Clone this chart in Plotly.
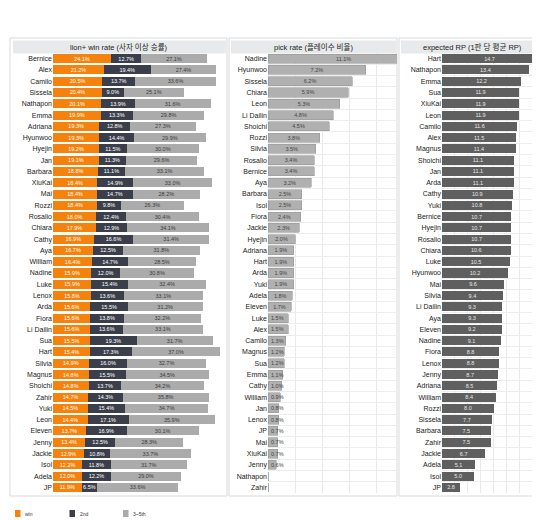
import plotly.graph_objects as go

W, H = 540, 520

# ---------------- data ----------------
wr_names = ["Bernice", "Alex", "Camilo", "Sissela", "Nathapon", "Emma", "Adriana", "Hyunwoo",
            "Hyejin", "Jan", "Barbara", "XiuKai", "Mai", "Rozzi", "Rosalio", "Chiara", "Cathy",
            "Aya", "William", "Nadine", "Luke", "Lenox", "Arda", "Fiora", "Li Dailin", "Sua",
            "Hart", "Silvia", "Magnus", "Shoichi", "Zahir", "Yuki", "Leon", "Eleven", "Jenny",
            "Jackie", "Isol", "Adela", "JP"]
wr_win = [24.1, 21.2, 20.5, 20.4, 20.1, 19.9, 19.3, 19.3, 19.2, 19.1, 18.8, 18.4, 18.4, 18.4,
          18.0, 17.9, 16.9, 16.7, 16.4, 15.9, 15.9, 15.8, 15.6, 15.6, 15.6, 15.5, 15.4, 14.9,
          14.8, 14.8, 14.7, 14.5, 14.4, 13.7, 13.4, 12.9, 12.2, 12.0, 11.9]
wr_2nd = [12.7, 19.4, 13.7, 9.0, 13.9, 13.3, 12.8, 14.4, 11.5, 11.3, 11.1, 14.9, 14.7, 9.8,
          12.4, 12.9, 16.6, 12.5, 14.7, 12.0, 15.4, 13.6, 15.5, 13.8, 13.6, 19.3, 17.3, 16.0,
          15.5, 13.7, 14.3, 15.4, 17.1, 16.9, 12.5, 10.8, 11.8, 12.2, 6.5]
wr_3to5 = [27.1, 27.4, 33.6, 25.1, 31.6, 29.8, 27.3, 29.9, 30.0, 29.6, 33.1, 33.0, 28.2, 26.3,
           30.4, 34.1, 31.4, 31.8, 28.5, 30.8, 32.4, 33.1, 31.2, 32.2, 33.1, 31.7, 37.0, 32.7,
           34.5, 34.2, 35.8, 34.7, 35.9, 30.1, 28.3, 33.7, 31.7, 29.0, 33.6]

pr_names = ["Nadine", "Hyunwoo", "Sissela", "Chiara", "Leon", "Li Dailin", "Shoichi", "Rozzi",
            "Silvia", "Rosalio", "Bernice", "Aya", "Barbara", "Isol", "Fiora", "Jackie", "Hyejin",
            "Adriana", "Hart", "Arda", "Yuki", "Adela", "Eleven", "Luke", "Alex", "Camilo",
            "Magnus", "Sua", "Emma", "Cathy", "William", "Jan", "Lenox", "JP", "Mai", "XiuKai",
            "Jenny", "Nathapon", "Zahir"]
pr_vals = [11.1, 7.2, 6.2, 5.9, 5.3, 4.8, 4.5, 3.8, 3.5, 3.4, 3.4, 3.2, 2.5, 2.5, 2.4, 2.3, 2.0,
           1.9, 1.9, 1.9, 1.9, 1.8, 1.7, 1.5, 1.5, 1.3, 1.2, 1.2, 1.1, 1.0, 0.9, 0.8, 0.8, 0.7,
           0.7, 0.7, 0.6, 0.0, 0.0]

rp_names = ["Hart", "Nathapon", "Emma", "Sua", "XiuKai", "Leon", "Camilo", "Alex", "Magnus",
            "Shoichi", "Jan", "Arda", "Cathy", "Yuki", "Bernice", "Hyejin", "Rosalio", "Chiara",
            "Luke", "Hyunwoo", "Mai", "Silvia", "Li Dailin", "Aya", "Eleven", "Nadine", "Fiora",
            "Lenox", "Jenny", "Adriana", "William", "Rozzi", "Sissela", "Barbara", "Zahir",
            "Jackie", "Adela", "Isol", "JP"]
rp_vals = [14.7, 13.4, 12.2, 11.9, 11.9, 11.9, 11.6, 11.5, 11.4, 11.1, 11.1, 11.1, 10.9, 10.8,
           10.7, 10.7, 10.7, 10.6, 10.5, 10.2, 9.6, 9.4, 9.3, 9.3, 9.2, 9.1, 8.8, 8.8, 8.7, 8.5,
           8.4, 8.0, 7.7, 7.5, 7.5, 6.7, 5.1, 5.0, 2.8]

titles = ["lion+ win rate (사자 이상 승률)", "pick rate (플레이수 비율)", "expected RP (1판 당 평균 RP)"]
legend_names = ["win", "2nd", "3~5th"]

# ---------------- style ----------------
ORANGE = "#F5820C"
NAVY = "#3B3F4B"
GRAY = "#ABABAB"
DGRAY = "#5F5F5F"
FONT = "Liberation Sans, Noto Sans CJK KR, sans-serif"
LBL = 5.5
SMALL = 1.6   # pick-rate bars narrower than this get their label at the bar base
PR_MAX = 9.5  # visible end of the pick-rate axis (longer bars are cut off)


def px(x):
    return x / W


def py(y):
    return 1 - y / H


def pct(vals):
    return [f"{v:.1f}%" if v > 0 else "" for v in vals]


fig = go.Figure()

seg_colors = [ORANGE, NAVY, GRAY]
seg_text = ["white", "white", "#3a3a3a"]
for name, vals, col, tc in zip(legend_names, [wr_win, wr_2nd, wr_3to5], seg_colors, seg_text):
    fig.add_trace(go.Bar(
        y=wr_names, x=vals, orientation="h", name=name, marker_color=col,
        marker_line_width=0, width=0.8, textangle=0,
        text=pct(vals), textposition="inside", insidetextanchor="middle",
        constraintext="none", textfont=dict(size=LBL, color=tc, family=FONT),
        xaxis="x", yaxis="y", showlegend=False))

# pick rate: split into wide bars (centred label) and narrow bars (label from base)
big_n = [n for n, v in zip(pr_names, pr_vals) if v >= SMALL]
big_v = [v for v in pr_vals if v >= SMALL]
big_t = [t if v <= PR_MAX else "" for t, v in zip(pct(big_v), big_v)]
sml_n = [n for n, v in zip(pr_names, pr_vals) if v < SMALL]
sml_v = [v for v in pr_vals if v < SMALL]
for names, vals, texts, anchor, clip in [(big_n, big_v, big_t, "middle", True),
                                         (sml_n, sml_v, pct(sml_v), "start", False)]:
    fig.add_trace(go.Bar(
        y=names, x=vals, orientation="h", marker_color="#B0B0B0",
        marker_line=dict(color="#9A9A9A", width=0.6), width=0.8, textangle=0,
        text=texts, textposition="inside", constraintext="none",
        insidetextanchor=anchor, cliponaxis=clip,
        textfont=dict(size=LBL, color="#444444", family=FONT),
        xaxis="x2", yaxis="y2", showlegend=False))

fig.add_trace(go.Bar(
    y=rp_names, x=rp_vals, orientation="h", marker_color=DGRAY, marker_line_width=0,
    width=0.8, text=[f"{v:.1f}" for v in rp_vals], textposition="inside", textangle=0,
    insidetextanchor="middle", constraintext="none",
    textfont=dict(size=LBL, color="#E8E8E8", family=FONT),
    xaxis="x3", yaxis="y3", showlegend=False))

ydom = [py(485), py(45)]
common_y = dict(type="category", autorange="reversed", domain=ydom, ticks="",
                tickfont=dict(size=7, color="#222222", family=FONT), showline=False,
                tickson="boundaries", gridcolor="#EDEDED", gridwidth=0.6, showgrid=True,
                zeroline=False)
common_x = dict(showticklabels=False, ticks="", showline=False, zeroline=False,
                gridcolor="#E9E9E9", gridwidth=0.6, fixedrange=True)

fig.update_layout(
    width=W, height=H, margin=dict(l=0, r=0, t=0, b=0),
    paper_bgcolor="white", plot_bgcolor="white", barmode="stack",
    font=dict(family=FONT, size=7, color="#222222"),
    xaxis=dict(common_x, domain=[px(45), px(218)], range=[0, 72], showgrid=False, anchor="y"),
    yaxis=dict(common_y, categoryarray=wr_names, anchor="x", showgrid=False),
    xaxis2=dict(common_x, domain=[px(260), px(389)], range=[0, PR_MAX], dtick=2, tick0=0,
                showgrid=True, anchor="y2"),
    yaxis2=dict(common_y, categoryarray=pr_names, anchor="x2"),
    xaxis3=dict(common_x, domain=[px(434), px(535)], range=[0, 15.6], dtick=2, tick0=0,
                showgrid=True, anchor="y3"),
    yaxis3=dict(common_y, categoryarray=rp_names, anchor="x3"),
)

shapes = []
annotations = []
frames = [(2, 219), (221, 389), (391, 537)]
bands = [(5, 218), (223, 388), (393, 535)]
centers = [111, 305, 464]
for (fx0, fx1), (bx0, bx1), c, t in zip(frames, bands, centers, titles):
    shapes.append(dict(type="rect", xref="paper", yref="paper", x0=px(fx0), x1=px(fx1),
                       y0=py(488), y1=py(30), line=dict(color="#D9D9D9", width=1),
                       fillcolor="rgba(0,0,0,0)", layer="below"))
    shapes.append(dict(type="rect", xref="paper", yref="paper", x0=px(bx0), x1=px(bx1),
                       y0=py(45.5), y1=py(32.5), line=dict(width=0),
                       fillcolor="#E8E9EB", layer="below"))
    annotations.append(dict(text=t, x=px(c), y=py(39), xref="paper", yref="paper",
                            showarrow=False, xanchor="center", yanchor="middle",
                            font=dict(size=7.5, color="#222222", family=FONT)))

# labels of pick-rate bars that run past the visible axis, centred on the full bar
for n, v in zip(pr_names, pr_vals):
    if v > PR_MAX:
        annotations.append(dict(text=f"{v:.1f}%", x=v / 2, y=n, xref="x2", yref="y2",
                                showarrow=False, xanchor="center", yanchor="middle",
                                font=dict(size=LBL, color="#444444", family=FONT)))

leg_x = [7, 61.5, 115]
for name, col, lx in zip(legend_names, seg_colors, leg_x):
    shapes.append(dict(type="rect", xref="paper", yref="paper", x0=px(lx), x1=px(lx + 5.5),
                       y0=py(509), y1=py(502), line=dict(width=0), fillcolor=col))
    annotations.append(dict(text=name, x=px(lx + 8), y=py(505.5), xref="paper", yref="paper",
                            showarrow=False, xanchor="left", yanchor="middle",
                            font=dict(size=5, color="#333333", family=FONT)))

fig.update_layout(shapes=shapes, annotations=annotations)

fig.write_html("out.html")
